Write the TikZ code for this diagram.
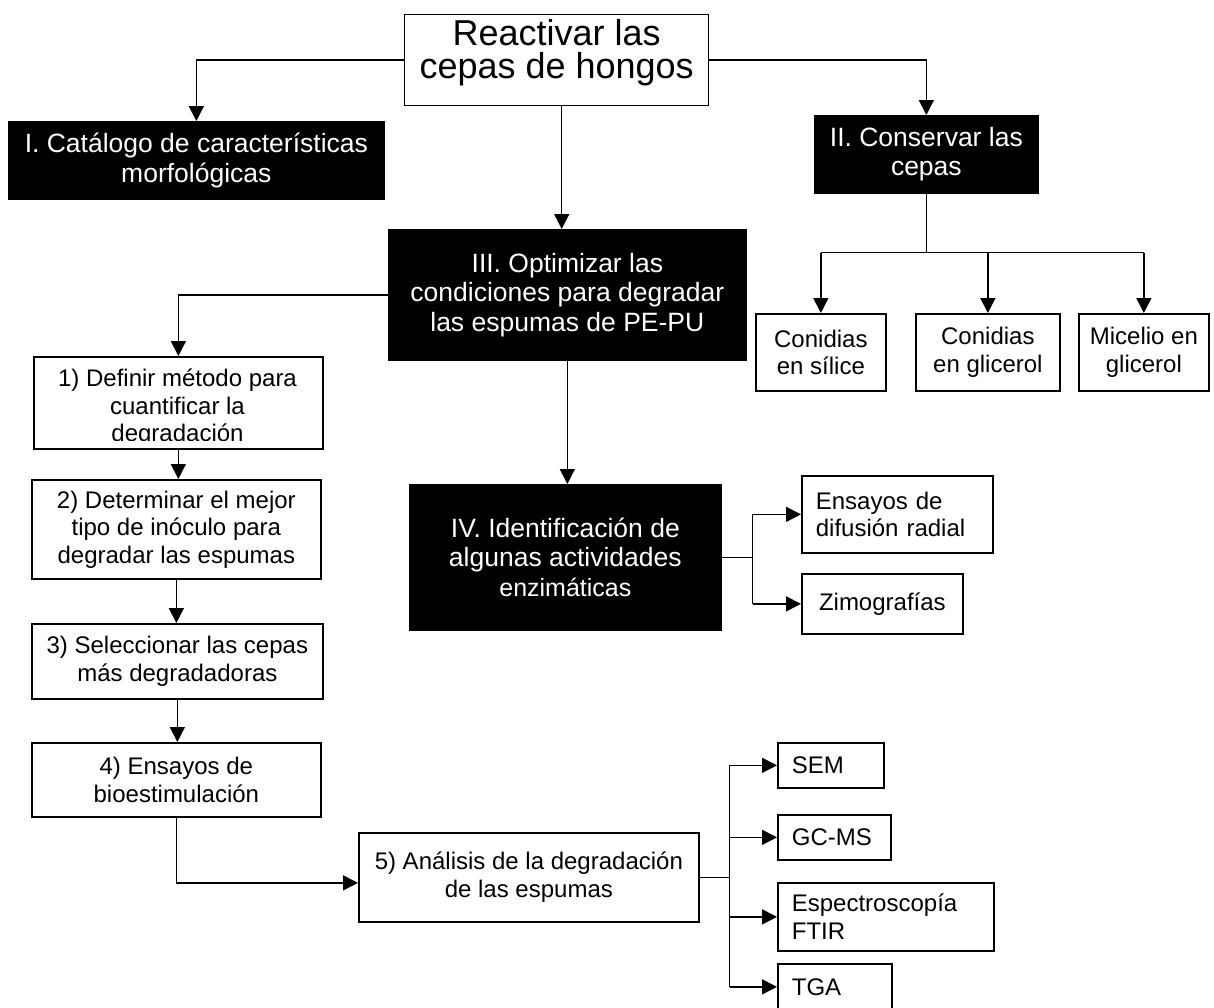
\documentclass[tikz,border=0pt]{standalone}
\usepackage{fontspec}
\setmainfont{Liberation Sans}
\usetikzlibrary{arrows.meta,positioning}

\begin{document}
\begin{tikzpicture}[x=1pt,y=-1pt,
  box/.style={draw,line width=1.7pt,inner sep=0pt,anchor=north west,align=center,font=\fontsize{24}{27.5}\selectfont},
  dark/.style={box,fill=black,draw=black,text=white,font=\fontsize{26.5}{29.5}\selectfont},
  lbox/.style={box,align=left,inner xsep=14pt},
  conn/.style={line width=1.5pt},
  arr/.style={conn,-{Triangle[length=15pt,width=15pt]}}]
\useasboundingbox (0,0) rectangle (1214,1007);

% main boxes
\node[box,minimum width=304pt,minimum height=91pt,line width=1.4pt,text depth=23pt,font=\fontsize{36}{33}\selectfont] (R) at (404,14) {Reactivar las\\cepas de hongos};
\node[dark,minimum width=375pt,minimum height=77pt] (I) at (8,121) {I. Catálogo de características\\morfológicas};
\node[dark,minimum width=223pt,minimum height=77pt] (II) at (814,115) {II. Conservar las\\cepas};
\node[dark,minimum width=357pt,minimum height=130pt] (III) at (388,229) {III. Optimizar las\\condiciones para degradar\\las espumas de PE-PU};
\node[dark,minimum width=311pt,minimum height=145pt] (IV) at (409,484) {IV. Identificación de\\algunas actividades\\{\fontsize{25}{28}\selectfont enzimáticas}};

% conservar
\node[box,minimum width=130pt,minimum height=77pt] (C1) at (755,313) {Conidias\\en sílice};
\node[box,minimum width=144pt,minimum height=77pt] (C2) at (915,313) {Conidias\\en glicerol};
\node[box,minimum width=130pt,minimum height=77pt] (C3) at (1078,313) {Micelio en\\glicerol};

% pasos
\node[box,minimum width=289pt,minimum height=92pt] (D1) at (33,356) {};
\begin{scope}
  \clip (D1.north west) rectangle ([yshift=9pt]D1.south east);
  \node[font=\fontsize{24}{27.5}\selectfont,align=center,inner sep=0pt,anchor=north] (D1t) at (177.5,369) {1) Definir método para\\cuantificar la\\degradación};
\end{scope}
\node[box,minimum width=289pt,minimum height=99pt] (D2) at (31,479) {2) Determinar el mejor\\tipo de inóculo para\\degradar las espumas};
\node[box,minimum width=291pt,minimum height=75pt] (D3) at (31,623) {3) Seleccionar las cepas\\más degradadoras};
\node[box,minimum width=289pt,minimum height=74pt] (D4) at (31,742) {4) Ensayos de\\bioestimulación};
\node[box,minimum width=340pt,minimum height=89pt] (D5) at (358,832) {5) Análisis de la degradación\\de las espumas};

% enzimas
\node[lbox,text width=163pt,minimum height=77pt] (E1) at (801,475) {Ensayos de\\difusión radial};
\node[box,minimum width=161pt,minimum height=60pt] (E2) at (801,573) {Zimografías};

% analisis
\node[lbox,text width=78pt,minimum height=45pt] (A1) at (777,742) {SEM};
\node[lbox,text width=85pt,minimum height=45pt] (A2) at (777,814) {GC-MS};
\node[lbox,text width=188pt,minimum height=68pt] (A3) at (777,882) {Espectroscopía\\FTIR};
\node[lbox,text width=86pt,minimum height=46pt] (A4) at (777,963) {TGA};

% connectors
\draw[arr] (R.west) -| (I.north);
\draw[arr] (R.east) -| (II.north);
\draw[arr] ([xshift=5pt]R.south) -- ([xshift=5pt]R.south |- III.north);

\draw[conn] (II.south) -- ++(0,59) coordinate (jII);
\draw[conn] (C1.north |- jII) -- (C3.north |- jII);
\foreach \c in {C1,C2,C3}
  \draw[arr] (\c.north |- jII) -- (\c.north);

\draw[arr] (III.west) -| (D1.north);
\foreach \a/\b in {D1/D2,D2/D3,D3/D4}
  \draw[arr] (\a.south) -- (\a.south |- \b.north);
\draw[arr] (D4.south) |- ([yshift=-5.5pt]D5.west);

\draw[arr] (III.south) -- (III.south |- IV.north);
\draw[conn] (IV.east) -- ++(31,0) coordinate (jIV);
\draw[conn] (jIV |- E1.west) -- (jIV |- E2.west);
\foreach \e in {E1,E2}
  \draw[arr] (jIV |- \e.west) -- (\e.west);

\draw[conn] (D5.east) -- ++(30,0) coordinate (jV);
\draw[conn] (jV |- A1.west) -- (jV |- A4.west);
\foreach \e in {A1,A2,A3,A4}
  \draw[arr] (jV |- \e.west) -- (\e.west);
\end{tikzpicture}
\end{document}
